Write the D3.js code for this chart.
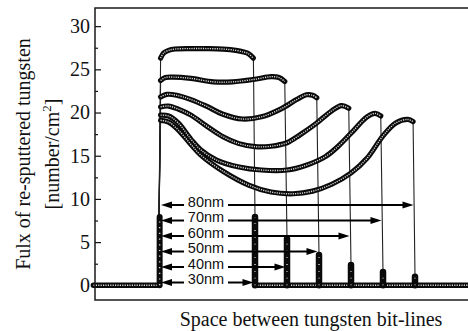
<!DOCTYPE html>
<html>
<head>
<meta charset="utf-8">
<script src="https://cdn.jsdelivr.net/npm/d3@7"></script>
<style>
  html, body { margin: 0; padding: 0; background: #fff; }
  svg { display: block; }
</style>
</head>
<body>
<svg id="chart" width="468" height="331"></svg>
<script>
// Gap widths between neighbouring bit-lines (nm)
const gaps = [30, 40, 50, 60, 70, 80];
const gapLabels = ["30nm", "40nm", "50nm", "60nm", "70nm", "80nm"];

// Flux on the facing side-wall of the left bit-line
const leftWallTop = 7.9;
// Flux on the facing side-wall of the right bit-line, per gap
const rightWallTop = [7.9, 5.4, 3.5, 2.35, 1.55, 1.0];

// Flux across the gap floor, [position (nm), flux], per gap
const floor30 = [[0.5,26.3],[1.5,26.9],[3,27.2],[5,27.35],[10,27.4],[15,27.4],[20,27.35],[24,27.2],[26.5,27.0],[28,26.8],[29.5,26.3]];
const floor40 = [[0.5,23.7],[2,24.05],[4.5,24.1],[10,23.95],[17,23.55],[23,23.55],[30,23.85],[35,24.15],[37.5,24.05],[39.3,23.6]];
const floor50 = [[0.5,21.8],[2.4,22.1],[5.5,22.0],[10,21.5],[15,20.7],[20,19.8],[26,19.25],[32,19.5],[38,20.4],[43,21.5],[46,22.05],[48,22.0],[49.3,21.7]];
const floor60 = [[0.5,20.65],[2.9,20.75],[6,20.4],[10,19.7],[15,18.4],[20,17.2],[25,16.4],[30,16.05],[35,16.1],[40,16.5],[44,17.4],[49,18.7],[54,20.2],[57,20.8],[59.3,20.5]];
const floor70 = [[0.5,19.7],[3,19.6],[6,18.8],[10,16.9],[13,15.7],[18,14.5],[25,13.7],[32,13.35],[40,13.35],[46,13.9],[52,14.9],[56,16.1],[60,17.6],[65,19.5],[67.5,19.9],[69.3,19.6]];
const floor80 = [[0.5,19.1],[3,18.9],[6,18.0],[10,16.3],[13,15.1],[20,13.2],[28,11.6],[35,10.8],[42,10.6],[48,10.9],[54,11.7],[60,13.0],[65,14.7],[70,17.3],[74,18.8],[77.8,19.2],[79.4,18.95]];
const floors = [floor30, floor40, floor50, floor60, floor70, floor80];

// Axis ticks
const yMajor = [0, 5, 10, 15, 20, 25, 30];
const yMinor = [2.5, 7.5, 12.5, 17.5, 22.5, 27.5];

const svg = d3.select("#chart");
const plotL = 95, plotR = 527, plotT = 8, plotB = 300;

const x = d3.scaleLinear().domain([-20, 115]).range([plotL, plotR]);
const y = d3.scaleLinear().domain([-1.7, 32.1]).range([plotB, plotT]);

const serif = "'Liberation Serif', 'Times New Roman', serif";
const sans = "'Liberation Sans', Arial, sans-serif";

// Axis ticks point into the plot
const yAxis = d3.axisLeft(y).tickValues(yMajor).tickSizeInner(-6).tickSizeOuter(0).tickPadding(5);
const gy = svg.append("g").attr("transform", `translate(${plotL},0)`).call(yAxis);
gy.select(".domain").remove();
gy.selectAll("text").attr("font-family", serif).attr("font-size", 20).attr("fill", "#111");
gy.selectAll("line").attr("stroke", "#111").attr("stroke-width", 1.2);

const yMinorAxis = d3.axisLeft(y).tickValues(yMinor).tickSizeInner(-3).tickSizeOuter(0).tickFormat("");
const gym = svg.append("g").attr("transform", `translate(${plotL},0)`).call(yMinorAxis);
gym.select(".domain").remove();
gym.selectAll("line").attr("stroke", "#111").attr("stroke-width", 1.2);

const line = d3.line().x(d => x(d[0])).y(d => y(d[1]));
const smooth = d3.line().x(d => x(d[0])).y(d => y(d[1])).curve(d3.curveCatmullRom.alpha(0.5));

const plot = svg.append("g");

// Thin connectors through every point of each profile
gaps.forEach((w, i) => {
  const pts = [[0, leftWallTop], ...floors[i], [w, rightWallTop[i]]];
  plot.append("path").attr("d", line(pts))
    .attr("fill", "none").attr("stroke", "#222").attr("stroke-width", 1.1);
});

// Beaded marker strings: dark band with light bead centres
function beads(d, width, dots) {
  plot.append("path").attr("d", d).attr("fill", "none")
    .attr("stroke", "#0a0a0a").attr("stroke-width", width)
    .attr("stroke-linecap", "round").attr("stroke-linejoin", "round");
  plot.append("path").attr("d", d).attr("fill", "none")
    .attr("stroke", "#d8d8d8").attr("stroke-width", 1.4)
    .attr("stroke-dasharray", dots);
}

// Zero flux outside the gaps
beads(line([[-20.5, 0], [0, 0]]), 5.5, "1.2 1.2");
beads(line([[gaps[0], 0], [116, 0]]), 5.5, "1.2 1.2");

// Left bit-line side-wall
beads(line([[0.2, 0], [0.2, leftWallTop]]), 6, "1.2 4.5");

// Right bit-line side-walls
gaps.forEach((w, i) => {
  beads(line([[w, 0], [w, rightWallTop[i]]]), 6.5, "0.8 6");
});

// Floor profiles
gaps.forEach((w, i) => {
  beads(smooth(floors[i]), 5.2, "1.2 1.1");
});

// Gap annotations with double arrows
const ann = svg.append("g");
const textX = x(0) + 47;
gaps.forEach((w, i) => {
  const ay = y(0) - 2.8 - i * 15.5;
  ann.append("text").attr("x", textX).attr("y", ay + 1.5)
    .attr("text-anchor", "middle").attr("font-family", sans).attr("font-size", 14.5)
    .attr("fill", "#111").text(gapLabels[i]);
  // left-pointing arrow to the left wall
  const lTip = x(0) + 2, lStart = textX - 22;
  ann.append("line").attr("x1", lStart).attr("x2", lTip + 8).attr("y1", ay).attr("y2", ay)
    .attr("stroke", "#000").attr("stroke-width", 2);
  ann.append("path").attr("d", `M${lTip},${ay} L${lTip + 11},${ay - 3.6} L${lTip + 11},${ay + 3.6} Z`).attr("fill", "#000");
  // right-pointing arrow to the right wall
  const rTip = x(w) - 1.5, rStart = textX + 22;
  ann.append("line").attr("x1", rStart).attr("x2", rTip - 8).attr("y1", ay).attr("y2", ay)
    .attr("stroke", "#000").attr("stroke-width", 2);
  ann.append("path").attr("d", `M${rTip},${ay} L${rTip - 11},${ay - 3.6} L${rTip - 11},${ay + 3.6} Z`).attr("fill", "#000");
});

// Plot frame
svg.append("rect").attr("x", plotL).attr("y", plotT).attr("width", plotR - plotL).attr("height", plotB - plotT)
  .attr("fill", "none").attr("stroke", "#1a1a1a").attr("stroke-width", 1.5);

// Axis titles
svg.append("text").attr("x", (plotL + plotR) / 2).attr("y", 326)
  .attr("text-anchor", "middle").attr("font-family", serif).attr("font-size", 20).attr("fill", "#111")
  .text("Space between tungsten bit-lines");

const yt = svg.append("g").attr("transform", `translate(0,${(plotT + plotB) / 2}) rotate(-90)`);
yt.append("text").attr("x", 0).attr("y", 30)
  .attr("text-anchor", "middle").attr("font-family", serif).attr("font-size", 20).attr("fill", "#111")
  .text("Fulx of re-sputtered tungsten");
const t2 = yt.append("text").attr("x", 0).attr("y", 59)
  .attr("text-anchor", "middle").attr("font-family", serif).attr("font-size", 20).attr("fill", "#111");
t2.append("tspan").text("[number/cm");
t2.append("tspan").attr("font-size", 13).attr("dy", -8).text("2");
t2.append("tspan").attr("dy", 8).text("]");
</script>
</body>
</html>
